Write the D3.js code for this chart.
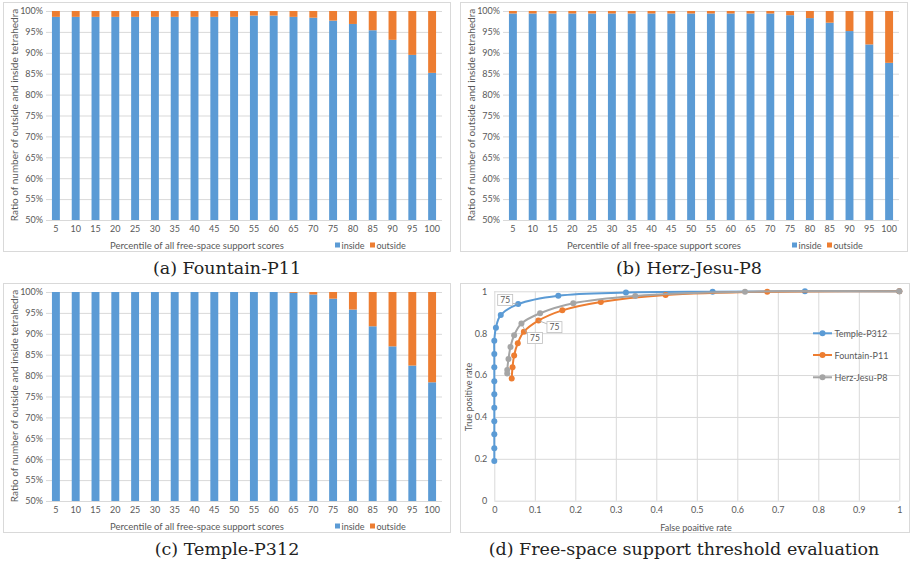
<!DOCTYPE html>
<html>
<head>
<meta charset="utf-8">
<script src="https://cdn.jsdelivr.net/npm/d3@7"></script>
<style>
  html, body { margin: 0; padding: 0; background: #fff; }
  svg { display: block; }
</style>
</head>
<body>
<svg id="chart" width="915" height="564"></svg>
<script>
// ---------------- DATA ----------------
const percentiles = [5,10,15,20,25,30,35,40,45,50,55,60,65,70,75,80,85,90,95,100];
const seriesNames = ["inside", "outside"];
const yTicksPct = [50,55,60,65,70,75,80,85,90,95,100];

// percentage of "inside" tetrahedra (outside = remainder up to 100%)
const insideFountain = [98.6,98.6,98.6,98.6,98.6,98.6,98.6,98.6,98.6,98.6,98.9,98.9,98.6,98.4,97.7,96.9,95.4,93.1,89.5,85.2];
const insideHerz     = [99.4,99.4,99.4,99.4,99.4,99.4,99.4,99.4,99.4,99.4,99.4,99.4,99.4,99.4,99.0,98.3,97.2,95.2,92.0,87.6];
const insideTemple   = [100,100,100,100,100,100,100,100,100,100,100,100,99.8,99.4,98.4,95.8,91.8,87.0,82.4,78.4];

// ROC: false positive rate / true positive rate
const rocNames = ["Temple-P312", "Fountain-P11", "Herz-Jesu-P8"];
const templeFPR   = [0,0,0,0,0,0,0,0,0,0,0.004,0.016,0.059,0.158,0.325,0.539,0.767,1];
const templeTPR   = [0.19,0.25,0.317,0.38,0.444,0.508,0.57,0.637,0.70,0.764,0.826,0.887,0.939,0.979,0.994,0.998,1.0,1.0];
const fountainFPR = [0.043,0.045,0.049,0.058,0.073,0.109,0.168,0.263,0.423,0.674,1];
const fountainTPR = [0.584,0.637,0.694,0.752,0.807,0.860,0.909,0.949,0.982,0.998,1];
const herzFPR     = [0.032,0.032,0.035,0.040,0.049,0.067,0.113,0.195,0.348,0.619,1];
const herzTPR     = [0.607,0.624,0.677,0.734,0.790,0.846,0.895,0.943,0.978,0.998,1];
const labelPercentile = 75;
const rocXTicks = [0,0.1,0.2,0.3,0.4,0.5,0.6,0.7,0.8,0.9,1];
const rocYTicks = [0,0.2,0.4,0.6,0.8,1];

const captions = ["(a) Fountain-P11", "(b) Herz-Jesu-P8", "(c) Temple-P312", "(d) Free-space support threshold evaluation"];

// ---------------- STYLE ----------------
const BLUE = "#5b9bd5", ORANGE = "#ed7d31", GRAY = "#a5a5a5";
const GRID = "#d9d9d9", TXT = "#595959";
const FONT = "Lato, 'Open Sans', sans-serif";

const svg = d3.select("#chart");
svg.append("rect").attr("width", 915).attr("height", 564).attr("fill", "#fff");

function styleText(sel, size) {
  sel.attr("font-family", FONT).attr("font-size", size).attr("fill", TXT);
}

function barPanel(dx, dy, inside) {
  const g = svg.append("g").attr("transform", `translate(${dx},${dy})`);
  g.append("rect").attr("x", 3.5).attr("y", 2.5).attr("width", 447).attr("height", 249)
    .attr("fill", "#fff").attr("stroke", GRID);

  const x = d3.scaleBand().domain(percentiles).range([46, 442]).paddingInner(0.6).paddingOuter(0.3);
  const y = d3.scaleLinear().domain([50, 100]).range([220, 11]);

  // gridlines
  g.append("g").attr("transform", "translate(46,0)")
    .call(d3.axisLeft(y).tickValues(yTicksPct).tickSize(-396).tickFormat(""))
    .call(s => { s.select(".domain").remove(); s.selectAll("line").attr("stroke", GRID).attr("stroke-width", 1); });

  const rows = percentiles.map((p, i) => ({ p, inside: inside[i] }));
  // inside bars
  g.append("g").selectAll("rect").data(rows).join("rect")
    .attr("x", d => x(d.p)).attr("width", x.bandwidth())
    .attr("y", d => y(d.inside)).attr("height", d => y(50) - y(d.inside))
    .attr("fill", BLUE);
  // outside bars (stacked to 100%)
  g.append("g").selectAll("rect").data(rows.filter(d => d.inside < 100)).join("rect")
    .attr("x", d => x(d.p)).attr("width", x.bandwidth())
    .attr("y", y(100)).attr("height", d => y(d.inside) - y(100))
    .attr("fill", ORANGE);

  // y tick labels
  g.append("g").attr("transform", "translate(46,0)")
    .call(d3.axisLeft(y).tickValues(yTicksPct).tickSize(0).tickPadding(3).tickFormat(d => d + "%"))
    .call(s => { s.select(".domain").remove(); styleText(s.selectAll("text"), 9); });
  // x tick labels
  g.append("g").attr("transform", "translate(0,220)")
    .call(d3.axisBottom(x).tickSize(0).tickPadding(6))
    .call(s => { s.select(".domain").remove(); styleText(s.selectAll("text"), 9); });

  // axis titles
  styleText(g.append("text").attr("x", 197).attr("y", 245).attr("text-anchor", "middle")
    .attr("dominant-baseline", "central").text("Percentile of all free-space support scores"), 9.5);
  styleText(g.append("text").attr("transform", "translate(14,115) rotate(-90)")
    .attr("text-anchor", "middle").attr("dominant-baseline", "central")
    .text("Ratio of number of outside and inside tetrahedra"), 10);

  // legend
  const lx = [335, 370];
  seriesNames.forEach((n, i) => {
    g.append("rect").attr("x", lx[i]).attr("y", 242.5).attr("width", 5).attr("height", 5)
      .attr("fill", i === 0 ? BLUE : ORANGE);
    styleText(g.append("text").attr("x", lx[i] + 6.5).attr("y", 245).attr("dominant-baseline", "central").text(n), 9);
  });
}

barPanel(0, 0, insideFountain);
barPanel(457, 0, insideHerz);
barPanel(0, 281, insideTemple);

// ---------------- ROC panel ----------------
(function () {
  const g = svg.append("g");
  g.append("rect").attr("x", 460.5).attr("y", 283.5).attr("width", 449).attr("height", 249)
    .attr("fill", "#fff").attr("stroke", GRID);
  const x = d3.scaleLinear().domain([0, 1]).range([494.3, 899.3]);
  const y = d3.scaleLinear().domain([0, 1]).range([500.7, 291.3]);

  g.append("g").attr("transform", `translate(0,${y(0)})`)
    .call(d3.axisBottom(x).tickValues(rocXTicks).tickSize(-(y(0) - y(1))).tickFormat(""))
    .call(s => { s.select(".domain").remove(); s.selectAll("line").attr("stroke", GRID); });
  g.append("g").attr("transform", `translate(${x(0)},0)`)
    .call(d3.axisLeft(y).tickValues(rocYTicks).tickSize(-(x(1) - x(0))).tickFormat(""))
    .call(s => { s.select(".domain").remove(); s.selectAll("line").attr("stroke", GRID); });

  g.append("g").attr("transform", `translate(${x(0)},0)`)
    .call(d3.axisLeft(y).tickValues(rocYTicks).tickSize(0).tickPadding(7).tickFormat(d3.format("~g")))
    .call(s => { s.select(".domain").remove(); styleText(s.selectAll("text"), 9); });
  g.append("g").attr("transform", `translate(0,${y(0)})`)
    .call(d3.axisBottom(x).tickValues(rocXTicks).tickSize(0).tickPadding(6).tickFormat(d3.format("~g")))
    .call(s => { s.select(".domain").remove(); styleText(s.selectAll("text"), 9); });

  styleText(g.append("text").attr("x", 696).attr("y", 527).attr("text-anchor", "middle")
    .attr("dominant-baseline", "central").text("False poaitive rate"), 9);
  styleText(g.append("text").attr("transform", "translate(468,397) rotate(-90)")
    .attr("text-anchor", "middle").attr("dominant-baseline", "central").text("True positive rate"), 9);

  const series = [
    { name: rocNames[0], fpr: templeFPR, tpr: templeTPR, color: BLUE, off: [-13, -4] },
    { name: rocNames[1], fpr: fountainFPR, tpr: fountainTPR, color: ORANGE, off: [16, 6.5] },
    { name: rocNames[2], fpr: herzFPR, tpr: herzTPR, color: GRAY, off: [13.5, 14.5] }
  ];
  const line = d3.line().x(d => x(d[0])).y(d => y(d[1])).curve(d3.curveCatmullRom.alpha(0.5));

  series.forEach(s => {
    const pts = s.fpr.map((f, i) => [f, s.tpr[i]]);
    g.append("path").attr("d", line(pts)).attr("fill", "none").attr("stroke", s.color).attr("stroke-width", 2);
    g.append("g").selectAll("circle").data(pts).join("circle")
      .attr("cx", d => x(d[0])).attr("cy", d => y(d[1])).attr("r", 3).attr("fill", s.color);
  });

  // data labels "75"
  series.forEach(s => {
    const idx = s.fpr.length - 1 - (100 - labelPercentile) / 5;
    const px = x(s.fpr[idx]), py = y(s.tpr[idx]);
    const cx = px + s.off[0], cy = py + s.off[1];
    const w = 15, h = 11;
    const ex = cx + (px > cx ? w / 2 : -w / 2);
    const ey = cy + (py > cy ? h / 2 : -h / 2) * 0.6;
    g.append("line").attr("x1", ex).attr("y1", ey).attr("x2", px).attr("y2", py)
      .attr("stroke", "#a6a6a6").attr("stroke-width", 0.8);
    g.append("rect").attr("x", cx - w / 2).attr("y", cy - h / 2).attr("width", w).attr("height", h)
      .attr("fill", "#fff").attr("stroke", "#bfbfbf").attr("stroke-width", 0.8);
    styleText(g.append("text").attr("x", cx).attr("y", cy).attr("text-anchor", "middle")
      .attr("dominant-baseline", "central").text(labelPercentile), 8.5);
  });

  // legend
  const ly = [333.3, 355, 377.3];
  series.forEach((s, i) => {
    g.append("line").attr("x1", 813).attr("x2", 832).attr("y1", ly[i]).attr("y2", ly[i])
      .attr("stroke", s.color).attr("stroke-width", 2);
    g.append("circle").attr("cx", 822.5).attr("cy", ly[i]).attr("r", 3).attr("fill", s.color);
    styleText(g.append("text").attr("x", 834.5).attr("y", ly[i]).attr("dominant-baseline", "central").text(s.name), 9);
  });
})();

// ---------------- captions ----------------
const capPos = [[227, 268], [689, 268], [227, 549], [684, 549]];
captions.forEach((c, i) => {
  svg.append("text").attr("x", capPos[i][0]).attr("y", capPos[i][1])
    .attr("text-anchor", "middle").attr("dominant-baseline", "central")
    .attr("font-family", "'DejaVu Serif', serif").attr("font-size", 17.5).attr("fill", "#222")
    .text(c);
});
</script>
</body>
</html>
